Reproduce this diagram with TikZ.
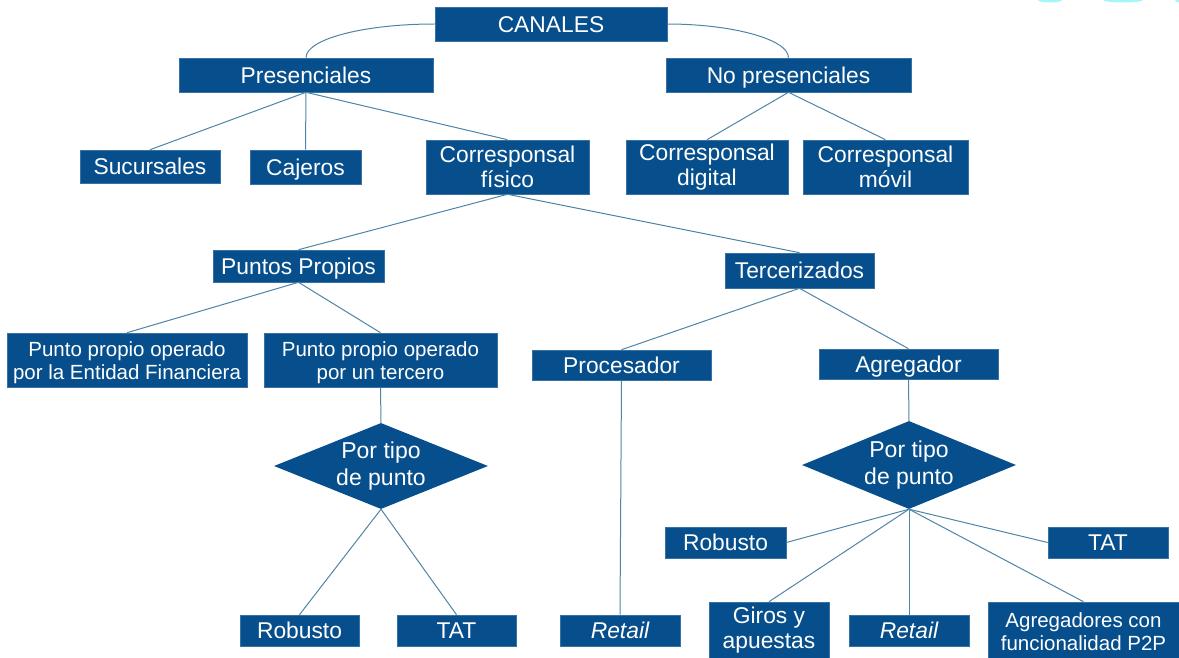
\documentclass[tikz,border=0pt]{standalone}
\usepackage{fontspec}
\setmainfont{Liberation Sans}
\usetikzlibrary{shapes.geometric}
\definecolor{boxblue}{RGB}{6,79,140}
\definecolor{linkc}{RGB}{78,132,165}
\definecolor{glow}{RGB}{165,247,247}
\tikzset{
  box/.style={fill=boxblue, draw=boxblue!80!white, line width=0.6pt, text=white,
    inner sep=0pt, align=center, font=\fontsize{22.8}{25}\selectfont},
  oneline/.style={text height=21.5pt, text depth=5.2pt},
  smalltext/.style={font=\fontsize{20.5}{23}\selectfont},
  dia/.style={diamond, fill=boxblue, text=white, inner sep=0pt, shape aspect=2.5,
    align=center, font=\fontsize{23}{27}\selectfont},
  link/.style={draw=linkc, line width=1pt},
}
\begin{document}
\begin{tikzpicture}[x=1pt,y=-1pt]
\useasboundingbox (0,0) rectangle (1179,658);
% faint cyan marks at the top edge
\fill[glow] (1050,0) ellipse [x radius=12, y radius=2.5];
\fill[glow] (1123,0) ellipse [x radius=20, y radius=2.5];
\fill[glow] (1179,0) ellipse [x radius=4, y radius=2.5];

% level 0 / 1
\node[box, oneline, minimum width=232pt, minimum height=34pt] (canales) at (551,24) {CANALES};
\node[box, oneline, minimum width=254pt, minimum height=34pt] (pres) at (306,75) {Presenciales};
\node[box, oneline, minimum width=245pt, minimum height=34pt] (nopres) at (788.5,75) {No presenciales};
% level 2
\node[box, oneline, minimum width=140pt, minimum height=33pt] (sucursales) at (150,166.5) {Sucursales};
\node[box, oneline, minimum width=111pt, minimum height=34pt] (cajeros) at (305.5,167) {Cajeros};
\node[box, minimum width=163pt, minimum height=54pt] (corrfis) at (507.5,167) {Corresponsal\\físico};
\node[box, minimum width=162pt, minimum height=54pt] (corrdig) at (707,167) {Corresponsal\\digital};
\node[box, minimum width=165pt, minimum height=54pt] (corrmov) at (885.5,167) {Corresponsal\\móvil};
% level 3
\node[box, oneline, minimum width=171pt, minimum height=32pt] (ptsprop) at (298.5,266) {Puntos Propios};
\node[box, oneline, minimum width=149pt, minimum height=35pt] (terc) at (799.5,270.5) {Tercerizados};
% level 4
\node[box, smalltext, minimum width=240pt, minimum height=54pt] (ppef) at (127,360) {\rule{0pt}{20pt}Punto propio operado\\por la Entidad Financiera};
\node[box, smalltext, minimum width=233pt, minimum height=54pt] (ppter) at (380.5,360) {\rule{0pt}{20pt}Punto propio operado\\por un tercero};
\node[box, oneline, minimum width=179pt, minimum height=30pt] (proc) at (621.5,365) {Procesador};
\node[box, oneline, minimum width=179pt, minimum height=30pt] (agreg) at (908.5,364) {Agregador};
% diamonds
\node[dia, minimum width=214pt, minimum height=86pt] (d1) at (381,466) {Por tipo\\de punto};
\node[dia, minimum width=214pt, minimum height=88pt] (d2) at (909,465) {Por tipo\\de punto};
% leaves
\node[box, oneline, minimum width=119pt, minimum height=31pt] (robL) at (299.5,630.5) {Robusto};
\node[box, oneline, minimum width=119pt, minimum height=31pt] (tatL) at (456.5,630.5) {TAT};
\node[box, oneline, minimum width=120pt, minimum height=31pt] (retL) at (620,630.5) {\itshape Retail};
\node[box, oneline, minimum width=121pt, minimum height=31pt] (robR) at (725.5,542.5) {Robusto};
\node[box, oneline, minimum width=120pt, minimum height=31pt] (tatR) at (1108,542.5) {TAT};
\node[box, minimum width=120pt, minimum height=56pt] (giros) at (769,630) {Giros y\\apuestas};
\node[box, oneline, minimum width=120pt, minimum height=31pt] (retR) at (909,630.5) {\itshape Retail};
\node[box, smalltext, minimum width=191pt, minimum height=56pt] (p2p) at (1083.5,630) {\rule{0pt}{19pt}Agregadores con\\funcionalidad P2P};

% connectors
\draw[link] (canales.west) .. controls (364,24) and (306,39) .. (pres.north);
\draw[link] (canales.east) .. controls (731,24) and (788.5,39) .. (nopres.north);
\draw[link] (pres.south) -- (sucursales.north);
\draw[link] (pres.south) -- (cajeros.north);
\draw[link] (pres.south) -- (corrfis.north);
\draw[link] (nopres.south) -- (corrdig.north);
\draw[link] (nopres.south) -- (corrmov.north);
\draw[link] (corrfis.south) -- (ptsprop.north);
\draw[link] (corrfis.south) -- (terc.north);
\draw[link] (ptsprop.south) -- (ppef.north);
\draw[link] (ptsprop.south) -- (ppter.north);
\draw[link] (terc.south) -- (proc.north);
\draw[link] (terc.south) -- (agreg.north);
\draw[link] (ppter.south) -- (d1.north);
\draw[link] (d1.south) -- (robL.north);
\draw[link] (d1.south) -- (tatL.north);
\draw[link] (proc.south) -- (retL.north);
\draw[link] (agreg.south) -- (d2.north);
\draw[link] (d2.south) -- (robR.east);
\draw[link] (d2.south) -- (tatR.west);
\draw[link] (d2.south) -- (giros.north);
\draw[link] (d2.south) -- (retR.north);
\draw[link] (d2.south) -- (p2p.north);
\end{tikzpicture}
\end{document}
